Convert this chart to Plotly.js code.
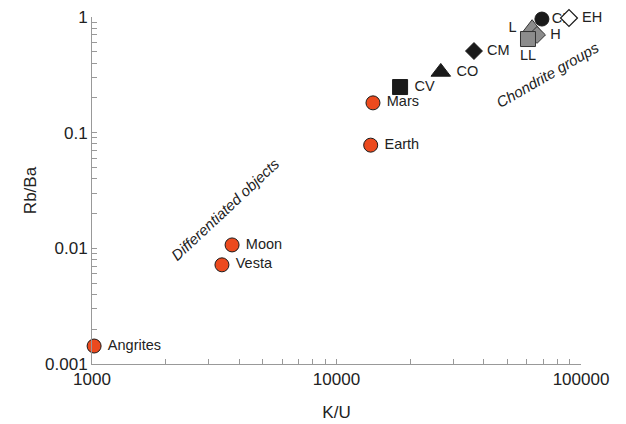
<!DOCTYPE html>
<html>
<head>
<meta charset="utf-8">
<script src="https://cdn.plot.ly/plotly-3.0.1.min.js"></script>
<style>
  html, body { margin: 0; padding: 0; background: #fff; }
  #chart { width: 626px; height: 424px; }
</style>
</head>
<body>
<div id="chart"></div>
<script>
// Differentiated bodies
const diffNames = ['Angrites', 'Vesta', 'Moon', 'Earth', 'Mars'];
const diffKU = [1020, 3400, 3740, 13800, 14100];
const diffRbBa = [0.00143, 0.0072, 0.0107, 0.078, 0.181];

// Carbonaceous chondrites
const carbNames = ['CV', 'CO', 'CM', 'CI'];
const carbKU = [18200, 26700, 36500, 69200];
const carbRbBa = [0.248, 0.335, 0.508, 0.96];

// Ordinary chondrites
const ordNames = ['L', 'H', 'LL'];
const ordKU = [63100, 66100, 60700];
const ordRbBa = [0.80, 0.70, 0.645];

// Enstatite chondrites
const enstNames = ['EH'];
const enstKU = [89300];
const enstRbBa = [0.98];

// Axis tick values (decades labelled, intermediate values unlabelled)
const xDecades = [1000, 10000, 100000];
const yDecades = [0.001, 0.01, 0.1, 1];

function logTicks(decades) {
  const vals = [], text = [];
  for (let i = 0; i < decades.length; i++) {
    vals.push(decades[i]); text.push(String(decades[i]));
    if (i < decades.length - 1) {
      for (let m = 2; m <= 9; m++) {
        vals.push(Number((decades[i] * m).toPrecision(6)));
        text.push('');
      }
    }
  }
  return { vals, text };
}
const xt = logTicks(xDecades);
const yt = logTicks(yDecades);

const FONT = 'Liberation Sans, Arial, Helvetica, sans-serif';
const ORANGE = '#ec4a1e';
const DARK = '#1a1a1a';
const GREY = '#8c8c8c';
const labelFont = { family: FONT, size: 14.5, color: '#222' };
const GAP = '\u00a0';

function padRight(names) { return names.map(n => GAP + n); }
function padLeft(names) { return names.map(n => n + GAP); }

const traces = [];

// Orange circles for differentiated objects
traces.push({
  x: diffKU, y: diffRbBa, text: padRight(diffNames), type: 'scatter', mode: 'markers+text',
  textposition: 'middle right', textfont: labelFont,
  marker: { symbol: 'circle', size: 14, color: ORANGE, line: { color: DARK, width: 1 } },
  cliponaxis: false, hoverinfo: 'skip'
});

// CV, CO, CM in black with distinct symbols
const carbSymbols = ['square', 'triangle-up', 'diamond', 'circle'];
const carbSizes = [15, 17, 13, 14];
for (let i = 0; i < 3; i++) {
  traces.push({
    x: [carbKU[i]], y: [carbRbBa[i]], text: padRight([carbNames[i]]), type: 'scatter', mode: 'markers+text',
    textposition: 'middle right', textfont: labelFont,
    marker: { symbol: carbSymbols[i], size: carbSizes[i], color: DARK, line: { color: DARK, width: 1 } },
    cliponaxis: false, hoverinfo: 'skip'
  });
}

// Ordinary chondrites: grey symbols
const ordSymbols = ['triangle-up', 'diamond', 'square'];
const ordSizes = [17, 13, 15];
const ordTextPos = ['middle left', 'middle right', 'bottom center'];
const ordText = [padLeft([ordNames[0]])[0], padRight([ordNames[1]])[0], ordNames[2]];
for (let i = 0; i < ordNames.length; i++) {
  traces.push({
    x: [ordKU[i]], y: [ordRbBa[i]], text: [ordText[i]], type: 'scatter', mode: 'markers+text',
    textposition: ordTextPos[i], textfont: labelFont,
    marker: { symbol: ordSymbols[i], size: ordSizes[i], color: GREY, line: { color: '#333', width: 1 } },
    cliponaxis: false, hoverinfo: 'skip'
  });
}

// CI: black circle (label partly tucked under the EH marker)
traces.push({
  x: [carbKU[3]], y: [carbRbBa[3]], text: [carbNames[3]], type: 'scatter', mode: 'markers+text',
  textposition: 'middle right', textfont: labelFont,
  marker: { symbol: carbSymbols[3], size: carbSizes[3], color: DARK, line: { color: DARK, width: 1 } },
  cliponaxis: false, hoverinfo: 'skip'
});

// EH: open diamond
traces.push({
  x: enstKU, y: enstRbBa, text: padRight(enstNames), type: 'scatter', mode: 'markers+text',
  textposition: 'middle right', textfont: labelFont,
  marker: { symbol: 'diamond', size: 13, color: '#ffffff', line: { color: DARK, width: 1.2 } },
  cliponaxis: false, hoverinfo: 'skip'
});

const axisCommon = {
  type: 'log', showgrid: false, zeroline: false, showline: true,
  linecolor: '#999', linewidth: 1, ticks: 'inside', ticklen: 5, tickcolor: '#999',
  tickwidth: 1, tickmode: 'array', mirror: false,
  tickfont: { family: FONT, size: 17, color: '#222' }
};

const layout = {
  width: 626, height: 424,
  margin: { l: 92, r: 45, t: 17, b: 60 },
  paper_bgcolor: '#fff', plot_bgcolor: '#fff',
  showlegend: false,
  font: { family: FONT, color: '#222' },
  xaxis: Object.assign({}, axisCommon, {
    range: [3, 5], tickvals: xt.vals, ticktext: xt.text,
    title: { text: 'K/U', font: { family: FONT, size: 17, color: '#222' }, standoff: 17 }
  }),
  yaxis: Object.assign({}, axisCommon, {
    range: [-3, 0], tickvals: yt.vals, ticktext: yt.text,
    title: { text: 'Rb/Ba', font: { family: FONT, size: 17, color: '#222' }, standoff: 4 }
  }),
  annotations: [
    { x: 3.544, y: -1.668, xref: 'x', yref: 'y', text: '<i>Differentiated objects</i>',
      showarrow: false, textangle: -43, font: { family: FONT, size: 15, color: '#222' } },
    { x: 4.865, y: -0.50, xref: 'x', yref: 'y', text: '<i>Chondrite groups</i>',
      showarrow: false, textangle: -30, font: { family: FONT, size: 15, color: '#222' } }
  ]
};

Plotly.newPlot('chart', traces, layout, { staticPlot: true, displayModeBar: false });
</script>
</body>
</html>
